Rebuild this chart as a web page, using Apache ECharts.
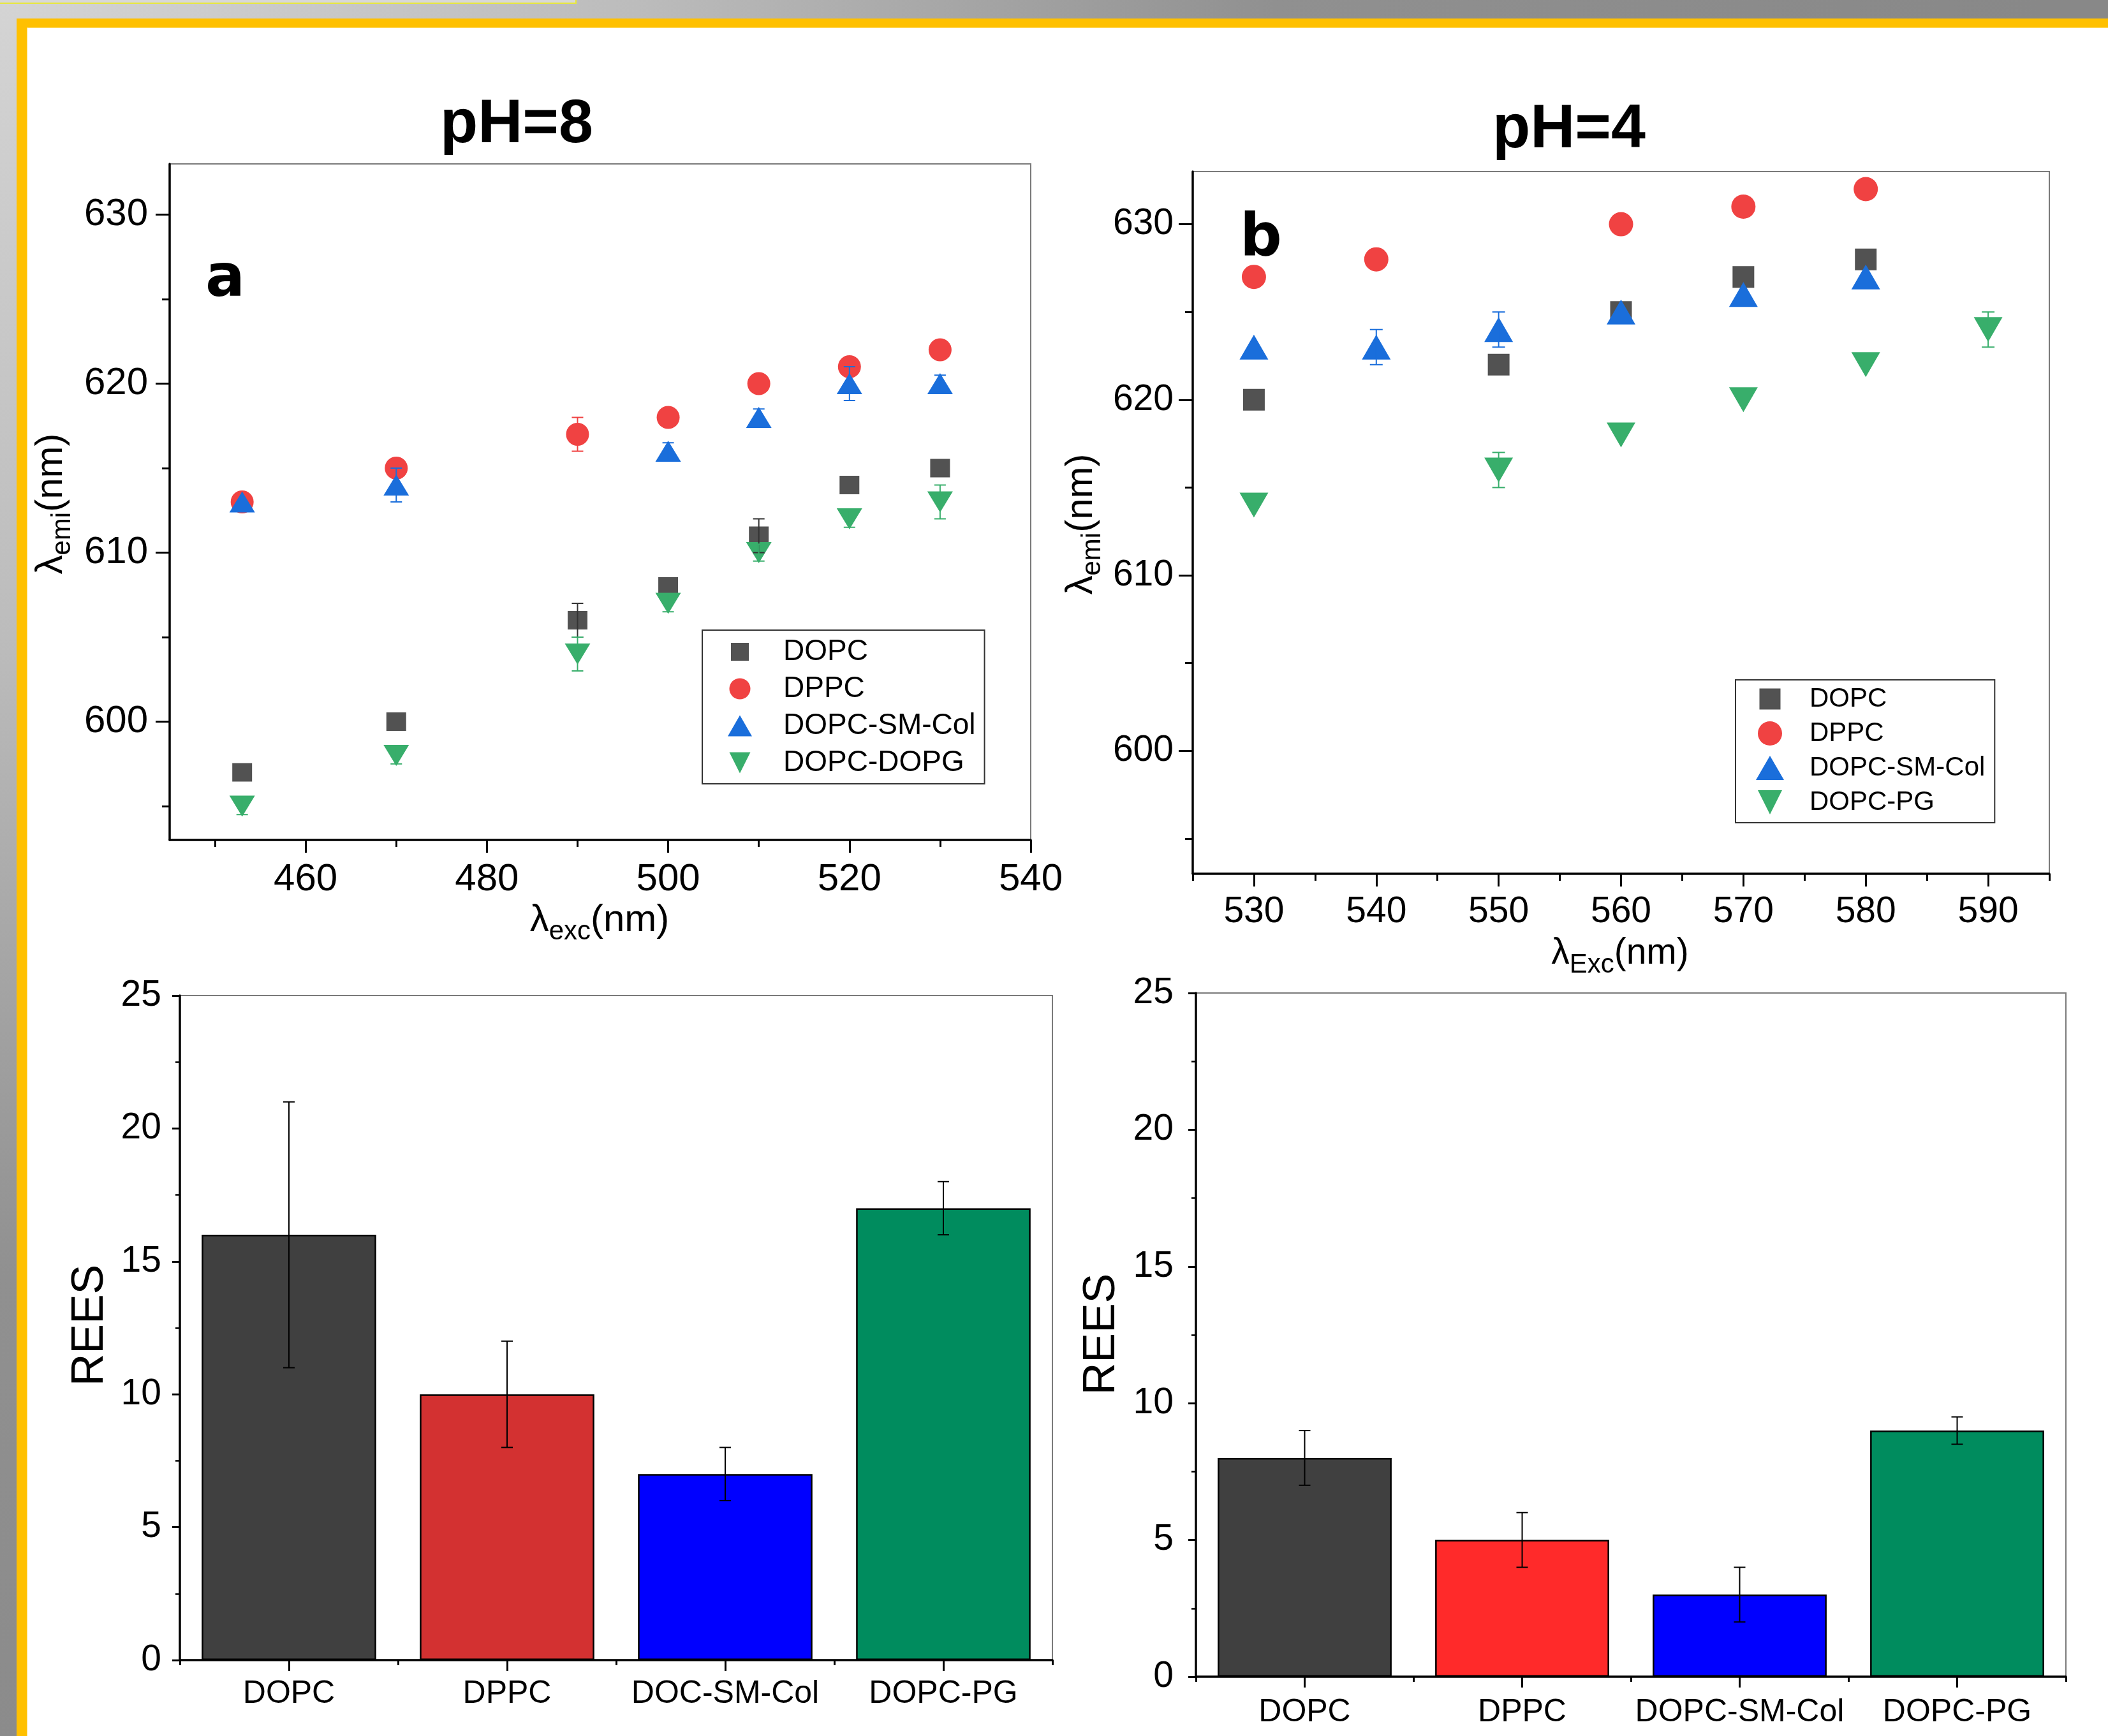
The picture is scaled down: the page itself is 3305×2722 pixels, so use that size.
<!DOCTYPE html>
<html><head><meta charset="utf-8">
<script src="https://cdn.jsdelivr.net/npm/echarts@6/dist/echarts.min.js"></script>
<style>
html,body{margin:0;padding:0;width:3305px;height:2722px;overflow:hidden;}
body{background: radial-gradient(circle at 0 0, #d4d4d4 0px, #bcbcbc 1000px, #909090 2000px, #888 3200px);}
#topline{position:absolute;left:0;top:-4px;width:902px;height:8px;background:#d8d8d8;border-right:2px solid #e8e83c;border-bottom:2px solid #e8e83c;}
#frame{position:absolute;left:26px;top:29px;right:0;bottom:0;background:#ffc000;}
#white{position:absolute;left:42px;top:43px;right:0;bottom:0;background:#fff;border-left:1px solid #ffdc70;border-top:1px solid #ffdc70;}
#chart{position:absolute;left:0;top:0;width:3305px;height:2722px;}
</style></head>
<body>
<div id="topline"></div><div id="frame"></div><div id="white"></div>
<div id="chart"></div>
<script>
// ---------- DATA ----------
// Panel a (pH=8)
const excA     = [453, 470, 490, 500, 510, 520, 530];
const dopcA    = [597, 600, 606, 608, 611, 614, 615];
const dopcAErr = [0, 0, 1, 0, 1, 0, 0];
const dppcA    = [613, 615, 617, 618, 620, 621, 622];
const dppcAErr = [0, 0, 1, 0, 0, 0, 0];
const smcolA    = [613, 614, null, 616, 618, 620, 620];
const smcolAErr = [0, 1, 0, 0.5, 0.5, 1, 0.5];
const dopgA    = [595, 598, 604, 607, 610, 612, 613];
const dopgAErr = [0.5, 0.5, 1, 0.5, 0.5, 0.5, 1];
// Panel b (pH=4)
const excB     = [530, 540, 550, 560, 570, 580, 590];
const dopcB    = [620, null, 622, 625, 627, 628, null];
const dppcB    = [627, 628, null, 630, 631, 632, null];
const smcolB    = [623, 623, 624, 625, 626, 627, null];
const smcolBErr = [0, 1, 1, 0, 0, 0, 0];
const pgB      = [614, null, 616, 618, 620, 622, 624];
const pgBErr   = [0, 0, 1, 0, 0, 0, 1];
// Bars
const barCats8 = ['DOPC', 'DPPC', 'DOC-SM-Col', 'DOPC-PG'];
const rees8    = [16, 10, 7, 17];
const rees8Err = [5, 2, 1, 1];
const barCats4 = ['DOPC', 'DPPC', 'DOPC-SM-Col', 'DOPC-PG'];
const rees4    = [8, 5, 3, 9];
const rees4Err = [1, 1, 1, 0.5];
// Tick values
const xTicksA      = [460, 480, 500, 520, 540];
const xMinorTicksA = [450, 470, 490, 510, 530];
const xTicksB      = [530, 540, 550, 560, 570, 580, 590];
const xMinorTicksB = [525, 535, 545, 555, 565, 575, 585, 595];
const yTicks       = [600, 610, 620, 630];
const yMinorTicks  = [595, 605, 615, 625];

// ---------- STYLES ----------
const FONT = "'Liberation Sans', Arial, Helvetica, sans-serif";
const C_DOPC = '#525252', C_DPPC = '#f04242', C_SM = '#1a6edb', C_PG = '#38ae6b';
const barColors8 = ['#404040', '#d33131', '#0000ff', '#008c5e'];
const barColors4 = ['#404040', '#ff2a2a', '#0000ff', '#008c5e'];
const DOWN = 'path://M0,0L10,0L5,10Z';

function pts(xs, ys) { const r = []; xs.forEach((x, i) => { if (ys[i] != null) r.push([x, ys[i]]); }); return r; }
function errPts(xs, ys, es) { const r = []; xs.forEach((x, i) => { if (ys[i] != null && es[i] > 0) r.push([x, ys[i], es[i]]); }); return r; }

function valAxis(grid, min, max, pos, ticks, tickLen, showLabel, showLine, labelSize, margin) {
  return {
    type: 'value', gridIndex: grid, min: min, max: max, position: pos,
    axisLine: {show: showLine, onZero: false, lineStyle: {color: '#000', width: 3.5}},
    axisTick: {show: true, inside: false, length: tickLen, customValues: ticks, lineStyle: {color: '#000', width: 3}},
    axisLabel: {show: showLabel, customValues: ticks, fontSize: labelSize, fontFamily: FONT, color: '#000', margin: margin},
    splitLine: {show: false}, minorTick: {show: false}, minorSplitLine: {show: false}
  };
}
function catAxis(grid, cats, main, margin) {
  return {
    type: 'category', gridIndex: grid, data: cats, position: 'bottom', boundaryGap: true,
    axisLine: {show: main, onZero: false, lineStyle: {color: '#000', width: 3.5}},
    axisTick: {show: true, alignWithLabel: main, interval: 0, length: main ? 17 : 8, lineStyle: {color: '#000', width: 3}},
    axisLabel: {show: main, interval: 0, fontSize: 50, fontFamily: FONT, color: '#000', margin: margin},
    splitLine: {show: false}
  };
}
function reesAxis(grid, margin) {
  return {
    type: 'value', gridIndex: grid, min: 0, max: 25, interval: 5, position: 'left',
    axisLine: {show: true, onZero: false, lineStyle: {color: '#000', width: 3.5}},
    axisTick: {show: true, length: 12, lineStyle: {color: '#000', width: 3}},
    minorTick: {show: true, splitNumber: 2, length: 7, lineStyle: {color: '#000', width: 2.5}},
    axisLabel: {fontSize: 57, fontFamily: FONT, color: '#000', margin: margin},
    splitLine: {show: false}
  };
}
function errRender(cap, color, lw) {
  return function (params, api) {
    const x = api.value(0), y = api.value(1), e = api.value(2);
    const t = api.coord([x, y + e]), b = api.coord([x, y - e]);
    const st = {stroke: color, lineWidth: lw};
    return {type: 'group', children: [
      {type: 'line', shape: {x1: t[0], y1: t[1], x2: b[0], y2: b[1]}, style: st},
      {type: 'line', shape: {x1: t[0] - cap, y1: t[1], x2: t[0] + cap, y2: t[1]}, style: st},
      {type: 'line', shape: {x1: b[0] - cap, y1: b[1], x2: b[0] + cap, y2: b[1]}, style: st}
    ]};
  };
}
function scat(name, xi, yi, data, symbol, size, color, rot) {
  return {type: 'scatter', name: name, xAxisIndex: xi, yAxisIndex: yi, data: data, symbol: symbol,
    symbolSize: size, symbolRotate: rot || 0, itemStyle: {color: color, opacity: 1}, z: 3};
}
function errSeries(xi, yi, data, color, cap, lw) {
  return {type: 'custom', xAxisIndex: xi, yAxisIndex: yi, data: data, renderItem: errRender(cap, color, lw),
    encode: {x: 0, y: 1}, z: 4, silent: true};
}
function subTitle(x, y, a, s, b, rot, size, subSize, pad) {
  return {type: 'text', x: x, y: y, rotation: rot, z: 10,
    style: {text: '{n|' + a + '}{s|' + s + '}{n|' + b + '}', align: 'center', verticalAlign: 'middle',
      fill: '#000', fontFamily: FONT, fontSize: size,
      rich: {n: {fontSize: size, fontFamily: FONT, fill: '#000'},
             s: {fontSize: subSize, fontFamily: FONT, fill: '#000', padding: [pad, 0, 0, 0]}}}};
}
function plainText(x, y, text, size, weight, family, rot) {
  return {type: 'text', x: x, y: y, rotation: rot || 0, z: 10,
    style: {text: text, fontSize: size, fontWeight: weight, fontFamily: family, fill: '#000', align: 'center', verticalAlign: 'middle'}};
}

const gridBox = {show: true, borderColor: '#7a7a7a', borderWidth: 2, backgroundColor: 'transparent', containLabel: false};

const option = {
  animation: false,
  textStyle: {fontFamily: FONT},
  grid: [
    Object.assign({left: 266, top: 257, width: 1350, height: 1060}, gridBox),
    Object.assign({left: 1870, top: 269, width: 1343, height: 1101}, gridBox),
    Object.assign({left: 282, top: 1561, width: 1368, height: 1042}, gridBox),
    Object.assign({left: 1875, top: 1557, width: 1364, height: 1072}, gridBox)
  ],
  xAxis: [
    valAxis(0, 445, 540, 'bottom', xTicksA, 20, true, true, 60, 32),
    valAxis(0, 445, 540, 'bottom', xMinorTicksA, 11, false, false, 60, 32),
    valAxis(1, 525, 595, 'bottom', xTicksB, 20, true, true, 57, 32),
    valAxis(1, 525, 595, 'bottom', xMinorTicksB, 11, false, false, 57, 32),
    catAxis(2, barCats8, true, 28),
    catAxis(2, barCats8, false, 28),
    catAxis(3, barCats4, true, 31),
    catAxis(3, barCats4, false, 31)
  ],
  yAxis: [
    valAxis(0, 593, 633, 'left', yTicks, 22, true, true, 60, 34),
    valAxis(0, 593, 633, 'left', yMinorTicks, 12, false, false, 60, 34),
    valAxis(1, 593, 633, 'left', yTicks, 22, true, true, 57, 30),
    valAxis(1, 593, 633, 'left', yMinorTicks, 12, false, false, 57, 30),
    reesAxis(2, 29),
    reesAxis(3, 35)
  ],
  legend: [
    {orient: 'vertical', left: 1101, top: 988, padding: [11, 14, 10, 40], itemWidth: 38, itemHeight: 33, itemGap: 12,
     borderColor: '#333', borderWidth: 2, selectedMode: false, backgroundColor: '#fff',
     formatter: n => '{t|' + n + '}',
     textStyle: {color: '#000', fontSize: 46, fontFamily: FONT, rich: {t: {fontSize: 46, lineHeight: 46, fontFamily: FONT, color: '#000', padding: [0, 0, 0, 44]}}},
     data: [
       {name: 'DOPC', icon: 'path://M0,0M38,33M5,2.5L33,2.5L33,30.5L5,30.5Z'},
       {name: 'DPPC', icon: 'circle'},
       {name: 'DOPC-SM-Col', icon: 'triangle'},
       {name: 'DOPC-DOPG', icon: DOWN}
     ]},
    {orient: 'vertical', left: 2721, top: 1066, padding: [9, 15, 11, 32], itemWidth: 44, itemHeight: 38, itemGap: 12,
     borderColor: '#333', borderWidth: 2, selectedMode: false, backgroundColor: '#fff',
     formatter: n => '{t|' + n + '}',
     textStyle: {color: '#000', fontSize: 42, fontFamily: FONT, rich: {t: {fontSize: 42, lineHeight: 42, fontFamily: FONT, color: '#000', padding: [0, 0, 0, 35]}}},
     data: [
       {name: 'DOPC', icon: 'path://M0,0M44,38M5.5,2.5L38.5,2.5L38.5,35.5L5.5,35.5Z'},
       {name: 'DPPC', icon: 'circle'},
       {name: 'DOPC-SM-Col', icon: 'triangle'},
       {name: 'DOPC-PG', icon: DOWN}
     ]}
  ],
  series: [
    // panel a
    scat('DOPC', 0, 0, pts(excA, dopcA), 'rect', [31, 29], C_DOPC),
    scat('DPPC', 0, 0, pts(excA, dppcA), 'circle', 36, C_DPPC),
    scat('DOPC-SM-Col', 0, 0, pts(excA, smcolA), 'triangle', [40, 33], C_SM),
    scat('DOPC-DOPG', 0, 0, pts(excA, dopgA), DOWN, [40, 33], C_PG),
    errSeries(0, 0, errPts(excA, dopcA, dopcAErr), '#333', 9, 2),
    errSeries(0, 0, errPts(excA, dppcA, dppcAErr), C_DPPC, 9, 2),
    errSeries(0, 0, errPts(excA, smcolA, smcolAErr), C_SM, 9, 2),
    errSeries(0, 0, errPts(excA, dopgA, dopgAErr), C_PG, 9, 2),
    // panel b
    scat('DOPC', 2, 2, pts(excB, dopcB), 'rect', [34, 34], C_DOPC),
    scat('DPPC', 2, 2, pts(excB, dppcB), 'circle', 38, C_DPPC),
    scat('DOPC-SM-Col', 2, 2, pts(excB, smcolB), 'triangle', [45, 39], C_SM),
    scat('DOPC-PG', 2, 2, pts(excB, pgB), DOWN, [45, 39], C_PG),
    errSeries(2, 2, errPts(excB, smcolB, smcolBErr), C_SM, 10, 2),
    errSeries(2, 2, errPts(excB, pgB, pgBErr), C_PG, 10, 2),
    // bars
    {type: 'bar', name: 'REES pH=8', xAxisIndex: 4, yAxisIndex: 4, barCategoryGap: '20%',
     data: rees8.map((v, i) => ({value: v, itemStyle: {color: barColors8[i]}})),
     itemStyle: {borderColor: '#000', borderWidth: 2.5}},
    {type: 'custom', xAxisIndex: 4, yAxisIndex: 4, data: rees8.map((v, i) => [i, v, rees8Err[i]]),
     renderItem: errRender(9, '#000', 2), encode: {x: 0, y: 1}, z: 5, silent: true},
    {type: 'bar', name: 'REES pH=4', xAxisIndex: 6, yAxisIndex: 5, barCategoryGap: '20%',
     data: rees4.map((v, i) => ({value: v, itemStyle: {color: barColors4[i]}})),
     itemStyle: {borderColor: '#000', borderWidth: 2.5}},
    {type: 'custom', xAxisIndex: 6, yAxisIndex: 5, data: rees4.map((v, i) => [i, v, rees4Err[i]]),
     renderItem: errRender(9, '#000', 2), encode: {x: 0, y: 1}, z: 5, silent: true}
  ],
  graphic: [
    plainText(810, 196, 'pH=8', 97, 'bold', FONT),
    plainText(2460, 204, 'pH=4', 97, 'bold', FONT),
    plainText(353, 440, 'a', 92, 'bold', "'DejaVu Sans', sans-serif"),
    plainText(1977, 377, 'b', 92, 'bold', "'DejaVu Sans', sans-serif"),
    subTitle(80, 790, 'λ', 'emi', '(nm)', Math.PI / 2, 60, 42, 36),
    subTitle(1695, 822, 'λ', 'emi', '(nm)', Math.PI / 2, 60, 42, 36),
    subTitle(940, 1443, 'λ', 'exc', '(nm)', 0, 60, 42, 36),
    subTitle(2540, 1495, 'λ', 'Exc', '(nm)', 0, 57, 42, 36),
    plainText(142, 2078, 'REES', 70, 'normal', FONT, Math.PI / 2),
    plainText(1728, 2092, 'REES', 70, 'normal', FONT, Math.PI / 2)
  ]
};
const chart = echarts.init(document.getElementById('chart'), null, {renderer: 'canvas'});
chart.setOption(option);
</script>
</body></html>
